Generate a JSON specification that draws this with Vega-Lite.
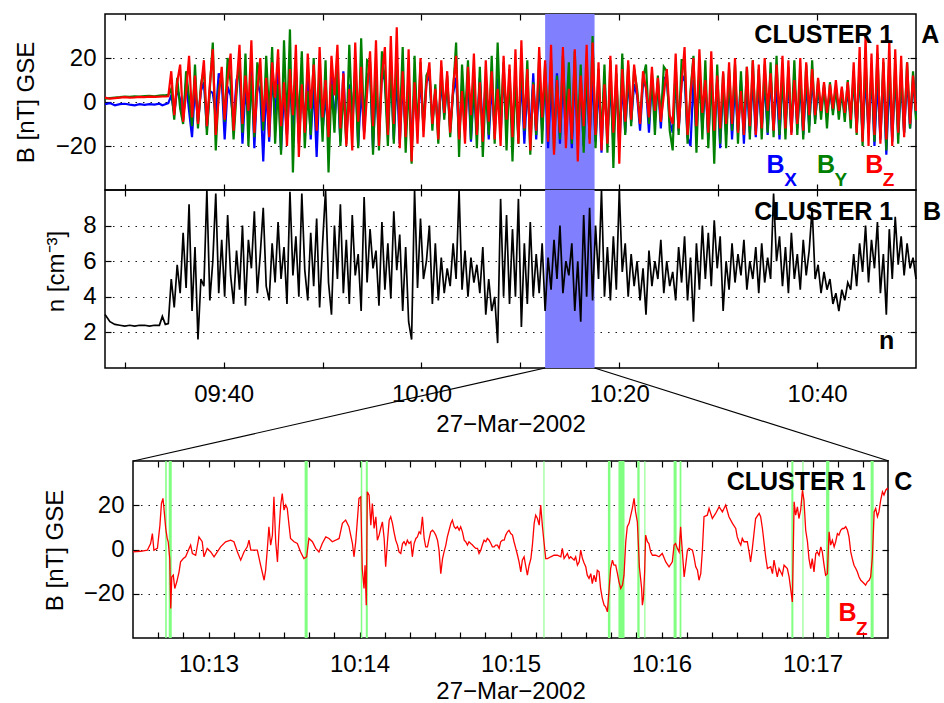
{
"$schema":"https://vega.github.io/schema/vega-lite/v6.json",
"padding":{"left":13,"top":12,"right":2,"bottom":0},
"background":"white",
"spacing":0,
"center":true,
"bounds":"flush",
"datasets":{
"ab":[
{"m":28,"x":-1,"y":1.5,"z":2,"n":3},{"m":28.5,"x":-0.5,"y":1.8,"z":1.5,"n":2.6},{"m":29,"x":-1.5,"y":2,"z":1.8,"n":2.45},{"m":29.5,"x":-1,"y":2.2,"z":2,"n":2.4},{"m":30,"x":-0.8,"y":2.5,"z":2.2,"n":2.35},{"m":30.5,"x":-1.2,"y":2.3,"z":2,"n":2.4},{"m":31,"x":-1.5,"y":2.6,"z":2.1,"n":2.35},{"m":31.5,"x":-1,"y":2.5,"z":2.3,"n":2.4},{"m":32,"x":-1.3,"y":2.7,"z":2.2,"n":2.4},{"m":32.5,"x":-1,"y":2.8,"z":2.4,"n":2.35},{"m":33,"x":-1.2,"y":2.6,"z":2.3,"n":2.4},{"m":33.5,"x":-0.8,"y":2.9,"z":2.4,"n":2.4},{"m":33.8,"x":-1.5,"y":3,"z":2.5,"n":2.9},{"m":34.1,"x":-1,"y":3,"z":2.5,"n":2.45},{"m":34.4,"x":-0.5,"y":3.2,"z":2.6,"n":2.5},
{"m":34.7,"x":3,"y":6,"z":14,"n":5},{"m":35,"x":-5,"y":-8,"z":-6,"n":3.4},{"m":35.3,"x":6,"y":11,"z":9,"n":5.8},{"m":35.6,"x":1,"y":-3,"z":17,"n":4.2},{"m":35.9,"x":-8,"y":-10,"z":-9,"n":7.6},{"m":36.2,"x":9,"y":14,"z":4,"n":4.5},{"m":36.5,"x":-4,"y":2,"z":21,"n":9.2},{"m":36.8,"x":-16,"y":-11,"z":-7,"n":3.2},{"m":37.1,"x":7,"y":17,"z":12,"n":6.8},{"m":37.4,"x":-9,"y":-12,"z":-10,"n":1.6},{"m":37.7,"x":5,"y":8,"z":6,"n":5},
{"m":38,"x":9,"y":15,"z":19,"n":4.6},{"m":38.3,"x":-12,"y":-15,"z":-11,"n":10},{"m":38.6,"x":5,"y":6,"z":8,"n":3.8},{"m":38.9,"x":4,"y":27,"z":24,"n":6},{"m":39.2,"x":-6,"y":-22,"z":-15,"n":9.8},{"m":39.5,"x":13,"y":6,"z":2,"n":4.2},{"m":39.8,"x":10,"y":13,"z":16,"n":7.2},{"m":40.1,"x":-17,"y":-9,"z":-8,"n":4},{"m":40.4,"x":7,"y":20,"z":10,"n":8.6},{"m":40.7,"x":3,"y":9,"z":22,"n":5.2},{"m":41,"x":-9,"y":-17,"z":-13,"n":3.6},
{"m":41.3,"x":10,"y":4,"z":7,"n":6.6},{"m":41.6,"x":15,"y":20,"z":26,"n":4.4},{"m":41.9,"x":-19,"y":-14,"z":-10,"n":8},{"m":42.2,"x":6,"y":22,"z":12,"n":3.5},{"m":42.5,"x":-8,"y":-20,"z":-4,"n":7.2},{"m":42.8,"x":15,"y":12,"z":28,"n":5.6},{"m":43.1,"x":-21,"y":-16,"z":-14,"n":8.8},{"m":43.4,"x":9,"y":18,"z":5,"n":4.2},{"m":43.7,"x":4,"y":10,"z":20,"n":6.4},{"m":44,"x":-27,"y":-13,"z":-9,"n":9},{"m":44.3,"x":7,"y":21,"z":11,"n":4.6},
{"m":44.6,"x":-18,"y":-7,"z":-16,"n":3.8},{"m":44.9,"x":12,"y":25,"z":18,"n":7},{"m":45.2,"x":-6,"y":-19,"z":2,"n":4.8},{"m":45.5,"x":14,"y":8,"z":24,"n":8.2},{"m":45.8,"x":-22,"y":-24,"z":-11,"n":5},{"m":46.1,"x":5,"y":28,"z":9,"n":6.8},{"m":46.4,"x":-15,"y":-12,"z":-20,"n":3.6},{"m":46.7,"x":9,"y":33,"z":15,"n":9.9},{"m":47,"x":-12,"y":-32,"z":-6,"n":5.2},{"m":47.3,"x":16,"y":14,"z":26,"n":7.4},{"m":47.6,"x":-19,"y":-9,"z":-25,"n":4},{"m":47.9,"x":7,"y":23,"z":8,"n":9.8},{"m":48.2,"x":-10,"y":-21,"z":-14,"n":5.5},{"m":48.5,"x":14,"y":5,"z":22,"n":3.8},{"m":48.8,"x":-17,"y":-15,"z":-3,"n":7.6},
{"m":49.1,"x":8,"y":20,"z":17,"n":4.6},{"m":49.4,"x":-25,"y":-11,"z":-13,"n":8.4},{"m":49.7,"x":11,"y":12,"z":25,"n":3.4},{"m":50,"x":-13,"y":-18,"z":-7,"n":7},{"m":50.3,"x":3,"y":19,"z":10,"n":10},{"m":50.6,"x":-16,"y":-32,"z":-16,"n":4.8},{"m":50.9,"x":13,"y":8,"z":21,"n":3},{"m":51.2,"x":-9,"y":-14,"z":3,"n":8},{"m":51.5,"x":10,"y":17,"z":26,"n":5},{"m":51.8,"x":-18,"y":-20,"z":-12,"n":9.2},
{"m":52.1,"x":14,"y":6,"z":13,"n":4.2},{"m":52.4,"x":-17,"y":-19,"z":-20,"n":7.2},{"m":52.7,"x":8,"y":26,"z":6,"n":3.6},{"m":53,"x":-12,"y":-8,"z":-22,"n":8.6},{"m":53.3,"x":16,"y":13,"z":27,"n":5.2},{"m":53.6,"x":-20,"y":-21,"z":-9,"n":6.4},{"m":53.9,"x":6,"y":29,"z":16,"n":3.2},{"m":54.2,"x":-14,"y":-13,"z":-17,"n":9.6},{"m":54.5,"x":12,"y":19,"z":4,"n":4.8},{"m":54.8,"x":14,"y":18,"z":23,"n":7.8},{"m":55.1,"x":-21,"y":-24,"z":-11,"n":5.6},{"m":55.4,"x":8,"y":15,"z":28,"n":6.6},{"m":55.7,"x":-15,"y":-22,"z":-20,"n":3.5},{"m":56,"x":13,"y":23,"z":12,"n":8.2},{"m":56.3,"x":10,"y":9,"z":25,"n":4.4},{"m":56.6,"x":-13,"y":-20,"z":-15,"n":7},{"m":56.9,"x":15,"y":16,"z":30,"n":3.9},
{"m":57.2,"x":-17,"y":-19,"z":-10,"n":8.8},{"m":57.5,"x":12,"y":20,"z":34,"n":5.5},{"m":57.8,"x":-19,"y":-12,"z":-21,"n":7.5},{"m":58.1,"x":9,"y":25,"z":14,"n":3.2},{"m":58.4,"x":-14,"y":-23,"z":-16,"n":6.8},{"m":58.7,"x":13,"y":10,"z":24,"n":2.6},{"m":59,"x":-21,"y":-28,"z":-27,"n":1.6},{"m":59.3,"x":8,"y":21,"z":9,"n":10},{"m":59.6,"x":-12,"y":-14,"z":-19,"n":4.5},{"m":59.9,"x":11,"y":18,"z":20,"n":8.4},
{"m":60.2,"x":-11,"y":-13,"z":-16,"n":5},{"m":60.5,"x":9,"y":12,"z":8,"n":6},{"m":60.8,"x":12,"y":15,"z":18,"n":8},{"m":61.1,"x":-9,"y":-13,"z":-10,"n":3.6},{"m":61.4,"x":5,"y":8,"z":6,"n":7},{"m":61.7,"x":-14,"y":-19,"z":-17,"n":3.8},{"m":62,"x":10,"y":16,"z":19,"n":6.2},{"m":62.3,"x":-6,"y":-8,"z":-5,"n":4.2},{"m":62.6,"x":9,"y":12,"z":14,"n":5.6},{"m":62.9,"x":-12,"y":-16,"z":-14,"n":4.6},{"m":63.2,"x":4,"y":5,"z":7,"n":7},
{"m":63.5,"x":11,"y":27,"z":21,"n":5},{"m":63.8,"x":-16,"y":-25,"z":-17,"n":10},{"m":64.1,"x":8,"y":17,"z":5,"n":4.4},{"m":64.4,"x":-13,"y":-8,"z":-19,"n":6.6},{"m":64.7,"x":12,"y":19,"z":16,"n":4},{"m":65,"x":-18,"y":-17,"z":-6,"n":6.2},{"m":65.3,"x":6,"y":11,"z":22,"n":4.8},{"m":65.6,"x":-14,"y":-21,"z":-15,"n":5.8},{"m":65.9,"x":11,"y":16,"z":9,"n":4.2},{"m":66.2,"x":-12,"y":-25,"z":-18,"n":6.8},{"m":66.5,"x":10,"y":7,"z":19,"n":3},{"m":66.8,"x":-17,"y":-15,"z":-9,"n":5},{"m":67.1,"x":8,"y":21,"z":14,"n":3.2},{"m":67.4,"x":-13,"y":-19,"z":-17,"n":4},{"m":67.7,"x":11,"y":27,"z":6,"n":1.4},{"m":68,"x":-15,"y":-10,"z":-20,"n":9.5},{"m":68.3,"x":13,"y":18,"z":21,"n":4},{"m":68.6,"x":-11,"y":-22,"z":-8,"n":8.6},{"m":68.9,"x":10,"y":15,"z":17,"n":3.6},{"m":69.2,"x":-14,"y":-27,"z":-16,"n":7.8},{"m":69.5,"x":12,"y":11,"z":24,"n":4},
{"m":69.8,"x":-16,"y":-19,"z":-19,"n":9.5},{"m":70.1,"x":11,"y":21,"z":28,"n":2.3},{"m":70.4,"x":-19,"y":-13,"z":-12,"n":7},{"m":70.7,"x":7,"y":19,"z":15,"n":3.6},{"m":71,"x":-15,"y":-24,"z":-22,"n":8.2},{"m":71.3,"x":13,"y":9,"z":8,"n":4},{"m":71.6,"x":-17,"y":-15,"z":-13,"n":6.4},{"m":71.9,"x":10,"y":21,"z":25,"n":4.2},{"m":72.2,"x":-13,"y":-19,"z":-7,"n":7},
{"m":72.5,"x":12,"y":17,"z":19,"n":3.2},{"m":72.8,"x":-21,"y":-11,"z":-18,"n":6.2},{"m":73.1,"x":8,"y":19,"z":26,"n":4.4},{"m":73.4,"x":-17,"y":-22,"z":-24,"n":7.2},{"m":73.7,"x":13,"y":12,"z":10,"n":5},{"m":74,"x":-19,"y":-17,"z":-14,"n":8},{"m":74.3,"x":11,"y":21,"z":25,"n":4.2},{"m":74.6,"x":-15,"y":-9,"z":-21,"n":6},{"m":74.9,"x":10,"y":18,"z":6,"n":5.2},{"m":75.2,"x":-21,"y":-19,"z":-17,"n":7},{"m":75.5,"x":13,"y":23,"z":24,"n":3.2},{"m":75.8,"x":-17,"y":-15,"z":-27,"n":6},{"m":76.1,"x":9,"y":17,"z":12,"n":2.6},{"m":76.4,"x":-20,"y":-23,"z":-11,"n":8.6},{"m":76.7,"x":12,"y":19,"z":26,"n":4},{"m":77,"x":-16,"y":-17,"z":-19,"n":9},{"m":77.3,"x":11,"y":30,"z":27,"n":3.8},
{"m":77.6,"x":-18,"y":-21,"z":-15,"n":8},{"m":77.9,"x":9,"y":15,"z":18,"n":5},{"m":78.2,"x":-23,"y":-17,"z":-22,"n":10},{"m":78.5,"x":11,"y":17,"z":8,"n":4},{"m":78.8,"x":-15,"y":-23,"z":-19,"n":6.8},{"m":79.1,"x":8,"y":19,"z":21,"n":3.8},{"m":79.4,"x":-19,"y":-30,"z":-14,"n":7.4},{"m":79.7,"x":10,"y":13,"z":17,"n":4.4},{"m":80,"x":-21,"y":-19,"z":-28,"n":10},{"m":80.3,"x":9,"y":22,"z":15,"n":5.4},{"m":80.6,"x":-14,"y":-15,"z":-9,"n":7},{"m":80.9,"x":11,"y":17,"z":19,"n":4},
{"m":81.2,"x":-9,"y":-11,"z":-8,"n":6.4},{"m":81.5,"x":8,"y":15,"z":17,"n":4.6},{"m":81.8,"x":3,"y":6,"z":4,"n":6},{"m":82.1,"x":-13,"y":-9,"z":-10,"n":3.8},{"m":82.4,"x":9,"y":11,"z":14,"n":5.6},{"m":82.7,"x":7,"y":17,"z":6,"n":3},{"m":83,"x":-14,"y":-10,"z":-7,"n":6.6},{"m":83.3,"x":10,"y":13,"z":16,"n":4.6},{"m":83.6,"x":-8,"y":-15,"z":-4,"n":6},{"m":83.9,"x":9,"y":12,"z":11,"n":5},{"m":84.2,"x":-12,"y":-9,"z":-9,"n":7.2},{"m":84.5,"x":11,"y":16,"z":3,"n":4.2},{"m":84.8,"x":11,"y":14,"z":15,"n":6},{"m":85.1,"x":-9,"y":-13,"z":-6,"n":4.6},{"m":85.4,"x":-14,"y":-22,"z":-10,"n":5.4},
{"m":85.7,"x":11,"y":17,"z":22,"n":3.8},{"m":86,"x":-13,"y":-15,"z":-12,"n":6.8},{"m":86.3,"x":9,"y":19,"z":8,"n":4.8},{"m":86.6,"x":12,"y":19,"z":25,"n":7.4},{"m":86.9,"x":-16,"y":-19,"z":-15,"n":3.8},{"m":87.2,"x":-20,"y":5,"z":3,"n":6.2},{"m":87.5,"x":10,"y":21,"z":20,"n":2.6},{"m":87.8,"x":-15,"y":-23,"z":-11,"n":7},{"m":88.1,"x":13,"y":16,"z":24,"n":4.4},{"m":88.4,"x":-12,"y":-17,"z":-5,"n":8},{"m":88.7,"x":9,"y":19,"z":10,"n":5},{"m":89,"x":-17,"y":-21,"z":-14,"n":7.6},{"m":89.3,"x":11,"y":14,"z":23,"n":4.6},{"m":89.6,"x":-13,"y":-28,"z":-13,"n":8.3},{"m":89.9,"x":10,"y":17,"z":12,"n":5.6},
{"m":90.2,"x":-21,"y":-19,"z":-12,"n":7.4},{"m":90.5,"x":9,"y":13,"z":14,"n":3.2},{"m":90.8,"x":-15,"y":-21,"z":-10,"n":6},{"m":91.1,"x":11,"y":15,"z":18,"n":4.4},{"m":91.4,"x":-17,"y":-13,"z":-10,"n":7},{"m":91.7,"x":8,"y":17,"z":20,"n":4.8},{"m":92,"x":-13,"y":-19,"z":-14,"n":6.4},{"m":92.3,"x":10,"y":14,"z":5,"n":5.2},{"m":92.6,"x":-19,"y":-15,"z":-15,"n":7.2},{"m":92.9,"x":9,"y":16,"z":16,"n":4.4},{"m":93.2,"x":-14,"y":-17,"z":-11,"n":6},{"m":93.5,"x":11,"y":19,"z":19,"n":5},{"m":93.8,"x":-16,"y":-13,"z":-15,"n":6.8},{"m":94.1,"x":8,"y":15,"z":17,"n":4.2},{"m":94.4,"x":-12,"y":-17,"z":-12,"n":7},{"m":94.7,"x":10,"y":17,"z":20,"n":4.8},{"m":95,"x":-15,"y":-14,"z":-4,"n":6.2},{"m":95.3,"x":12,"y":18,"z":13,"n":5},{"m":95.6,"x":-13,"y":-16,"z":-13,"n":9.8},{"m":95.9,"x":9,"y":21,"z":17,"n":6},{"m":96.2,"x":-17,"y":-15,"z":-8,"n":7.4},{"m":96.5,"x":11,"y":14,"z":21,"n":4.6},{"m":96.8,"x":-11,"y":-17,"z":-12,"n":6.8},{"m":97.1,"x":9,"y":16,"z":19,"n":4.2},{"m":97.4,"x":-14,"y":-13,"z":-15,"n":7.6},{"m":97.7,"x":10,"y":19,"z":10,"n":5},{"m":98,"x":-12,"y":-15,"z":-10,"n":6.4},{"m":98.3,"x":8,"y":13,"z":20,"n":4.4},{"m":98.6,"x":-15,"y":-17,"z":-13,"n":7.2},{"m":98.9,"x":9,"y":17,"z":18,"n":5.2},{"m":99.2,"x":-11,"y":-14,"z":-6,"n":6.6},{"m":99.5,"x":11,"y":19,"z":15,"n":9},
{"m":99.8,"x":-8,"y":-10,"z":-6,"n":5},{"m":100.1,"x":6,"y":10,"z":11,"n":5.8},{"m":100.4,"x":-5,"y":-8,"z":-4,"n":4.2},{"m":100.7,"x":7,"y":8,"z":9,"n":5.4},{"m":101,"x":-6,"y":-12,"z":-5,"n":4.4},{"m":101.3,"x":5,"y":9,"z":8,"n":5},{"m":101.6,"x":-4,"y":-6,"z":-3,"n":3.6},{"m":101.9,"x":6,"y":7,"z":10,"n":4.2},{"m":102.2,"x":-5,"y":-8,"z":-4,"n":3.2},{"m":102.5,"x":4,"y":6,"z":7,"n":4.4},{"m":102.8,"x":-6,"y":-9,"z":-5,"n":3.8},{"m":103.1,"x":5,"y":10,"z":9,"n":4.8},{"m":103.4,"x":-7,"y":-12,"z":-8,"n":4.4},
{"m":103.7,"x":10,"y":14,"z":18,"n":6.4},{"m":104,"x":-12,"y":-15,"z":-14,"n":4.6},{"m":104.3,"x":14,"y":18,"z":25,"n":7},{"m":104.6,"x":-16,"y":-20,"z":-18,"n":5.4},{"m":104.9,"x":12,"y":20,"z":30,"n":8},{"m":105.2,"x":-14,"y":-14,"z":-20,"n":4.8},{"m":105.5,"x":13,"y":16,"z":22,"n":7.2},{"m":105.8,"x":-20,"y":-18,"z":-15,"n":5.6},{"m":106.1,"x":10,"y":22,"z":26,"n":8.2},{"m":106.4,"x":-17,"y":-16,"z":-19,"n":4.2},{"m":106.7,"x":14,"y":18,"z":20,"n":6.4},{"m":107,"x":-24,"y":-22,"z":-17,"n":3},{"m":107.3,"x":11,"y":20,"z":28,"n":7.8},{"m":107.6,"x":-18,"y":-16,"z":-20,"n":5},{"m":107.9,"x":13,"y":17,"z":24,"n":8.5},{"m":108.2,"x":-15,"y":-19,"z":-14,"n":5.8},{"m":108.5,"x":10,"y":15,"z":21,"n":7.4},{"m":108.8,"x":-14,"y":-14,"z":-16,"n":5.2},{"m":109.1,"x":12,"y":18,"z":18,"n":7},{"m":109.4,"x":-12,"y":-12,"z":-10,"n":5.6},{"m":109.7,"x":10,"y":14,"z":12,"n":6.2},{"m":110,"x":-6,"y":-8,"z":-4,"n":5}
],
"c":[
{"s":30,"v":-1.1},{"s":33,"v":-0.8},{"s":35.7,"v":-0.3},{"s":37,"v":2.7},{"s":37.7,"v":7.2},{"s":38.3,"v":-0.3},{"s":39.7,"v":0.5},{"s":40.7,"v":11},{"s":41.3,"v":20.8},{"s":41.9,"v":23.1},{"s":42.3,"v":18.6},{"s":43,"v":9.5},{"s":43.6,"v":5},{"s":44,"v":3.5},{"s":44.6,"v":-4.1},{"s":45,"v":-26.7},{"s":45.4,"v":-12.4},{"s":46,"v":-11.6},{"s":46.6,"v":-17.6},{"s":47.4,"v":-14.6},{"s":48.3,"v":-10.1},{"s":48.9,"v":-5.6},{"s":50,"v":-4.1},{"s":50.9,"v":-3.3},{"s":52.3,"v":0.5},{"s":52.9,"v":2},{"s":53.6,"v":-1.8},{"s":54.9,"v":-2.6},{"s":56.2,"v":5.7},{"s":57.5,"v":3.5},{"s":58.2,"v":-3.3},{"s":59.5,"v":0.5},{"s":60.9,"v":-1.1},{"s":62.2,"v":-3.3},{"s":63.5,"v":-1.1},{"s":64.8,"v":1.2},{"s":66.8,"v":3.5},{"s":68.8,"v":4.2},{"s":70.1,"v":3.5},{"s":71.5,"v":-1.1},{"s":72.8,"v":-4.8},{"s":74.1,"v":-1.1},{"s":75.4,"v":1.2},{"s":76.1,"v":4.2},{"s":76.8,"v":-0.3},{"s":78.1,"v":-0.3},{"s":79.4,"v":-0.3},{"s":80.7,"v":-7.1},{"s":82.1,"v":-13.9},{"s":82.7,"v":-9.4},{"s":83.4,"v":0.5},{"s":84,"v":10.3},{"s":84.7,"v":2},{"s":85.4,"v":6.5},{"s":86,"v":23.8},{"s":86.7,"v":3.5},{"s":87.4,"v":-5.6},{"s":88,"v":8},{"s":88.7,"v":20.1},{"s":89.3,"v":25.3},{"s":90,"v":17.8},{"s":90.7,"v":20.1},{"s":91.3,"v":18.6},{"s":92,"v":11},{"s":92.6,"v":5},{"s":94,"v":3.5},{"s":95.3,"v":2.7},{"s":96.6,"v":-1.1},{"s":97.9,"v":-4.1},{"s":99,"v":-3.3},{"s":99.9,"v":5},{"s":101.3,"v":3.5},{"s":102.6,"v":0.5},{"s":103.9,"v":-1.1},{"s":105.2,"v":2.7},{"s":106.6,"v":5.7},{"s":107.9,"v":5},{"s":109.2,"v":3.5},{"s":110.5,"v":4.2},{"s":111.9,"v":5},{"s":113.2,"v":11.8},{"s":114.5,"v":13.3},{"s":115.8,"v":10.3},{"s":117.2,"v":2.7},{"s":117.8,"v":-3.3},{"s":118.5,"v":3.5},{"s":119.1,"v":12.5},{"s":119.8,"v":23.1},{"s":120.5,"v":23.8},{"s":121.1,"v":-8.6},{"s":121.8,"v":-17.6},{"s":122.2,"v":-7.1},{"s":122.7,"v":-25.2},{"s":123.1,"v":26.1},{"s":123.8,"v":24.6},{"s":124.5,"v":11},{"s":125.1,"v":20.8},{"s":125.8,"v":9.5},{"s":126.5,"v":14.8},{"s":127.1,"v":4.2},{"s":127.8,"v":6.5},{"s":128.4,"v":9.5},{"s":129.1,"v":12.5},{"s":129.8,"v":5},{"s":130.4,"v":-7.8},{"s":131.1,"v":3.5},{"s":131.8,"v":13.3},{"s":132.4,"v":14.8},{"s":133.1,"v":11.8},{"s":133.7,"v":8},{"s":134.4,"v":4.2},{"s":135.1,"v":2},{"s":135.7,"v":-1.1},{"s":136.4,"v":-1.8},{"s":137.1,"v":2.7},{"s":137.7,"v":3.5},{"s":138.4,"v":2},{"s":139,"v":4.2},{"s":139.7,"v":2.7},{"s":140.4,"v":3.5},{"s":141,"v":-3.3},{"s":141.7,"v":2.7},{"s":142.4,"v":5},{"s":143,"v":5.7},{"s":143.7,"v":8},{"s":144.3,"v":7.2},{"s":145,"v":14.8},{"s":145.7,"v":5},{"s":146.3,"v":1.2},{"s":147,"v":1.2},{"s":147.7,"v":5},{"s":148.3,"v":8},{"s":149,"v":8.7},{"s":149.6,"v":8},{"s":150.3,"v":6.5},{"s":151,"v":4.2},{"s":151.6,"v":-0.3},{"s":152.3,"v":-10.9},{"s":153,"v":-4.1},{"s":153.6,"v":-1.1},{"s":154.3,"v":2},{"s":154.9,"v":5.7},{"s":155.6,"v":8.7},{"s":156.3,"v":11.8},{"s":156.9,"v":13.3},{"s":157.6,"v":10.3},{"s":158.2,"v":9.5},{"s":158.9,"v":10.3},{"s":159.6,"v":8.7},{"s":160.2,"v":10.3},{"s":160.9,"v":8},{"s":161.6,"v":4.2},{"s":162.2,"v":3.5},{"s":162.9,"v":2},{"s":163.5,"v":3.5},{"s":164.2,"v":2.7},{"s":164.9,"v":2},{"s":165.5,"v":1.2},{"s":166.2,"v":0.5},{"s":166.9,"v":0.5},{"s":167.5,"v":-1.8},{"s":168.2,"v":-0.3},{"s":168.8,"v":2},{"s":169.5,"v":4.2},{"s":170.2,"v":3.5},{"s":170.8,"v":5},{"s":171.5,"v":4.2},{"s":172.2,"v":2.7},{"s":172.8,"v":1.2},{"s":173.5,"v":1.2},{"s":174.1,"v":2},{"s":174.8,"v":2},{"s":175.5,"v":0.5},{"s":176.1,"v":3.5},{"s":176.8,"v":4.2},{"s":177.5,"v":4.2},{"s":178.1,"v":6.5},{"s":178.8,"v":8},{"s":179.4,"v":8.7},{"s":180.1,"v":7.2},{"s":180.8,"v":6.5},{"s":181.4,"v":3.5},{"s":182.1,"v":0.5},{"s":182.8,"v":-2.6},{"s":183.4,"v":-5.6},{"s":184.1,"v":-10.1},{"s":184.7,"v":-4.8},{"s":185.4,"v":-3.3},{"s":186.1,"v":-7.8},{"s":186.7,"v":-11.6},{"s":187.4,"v":-7.1},{"s":188.1,"v":-4.1},{"s":188.7,"v":2},{"s":189.4,"v":11.8},{"s":190,"v":15.5},{"s":190.7,"v":14},{"s":191.4,"v":11},{"s":192,"v":20.1},{"s":192.7,"v":10.3},{"s":193.3,"v":3.5},{"s":194,"v":-4.1},{"s":194.7,"v":-4.1},{"s":196,"v":-3.3},{"s":197.3,"v":-2.6},{"s":198.6,"v":-2.6},{"s":200,"v":-3.3},{"s":200.6,"v":0.5},{"s":201.3,"v":-4.1},{"s":202.6,"v":-1.8},{"s":203.3,"v":-4.1},{"s":203.9,"v":-3.3},{"s":205.3,"v":-4.8},{"s":205.9,"v":-3.3},{"s":206.6,"v":-7.1},{"s":207.3,"v":-5.6},{"s":207.9,"v":-0.3},{"s":208.6,"v":-4.1},{"s":209.2,"v":-6},{"s":209.9,"v":-7.8},{"s":210.5,"v":-11.6},{"s":211.2,"v":-13.1},{"s":211.9,"v":-10.9},{"s":212.5,"v":-15.4},{"s":213.2,"v":-11.6},{"s":213.9,"v":-14.6},{"s":214.5,"v":-9.4},{"s":215.2,"v":-10.1},{"s":215.8,"v":-17.6},{"s":216.5,"v":-22.2},{"s":217.2,"v":-25.2},{"s":217.8,"v":-25.9},{"s":218.5,"v":-28.2},{"s":219.2,"v":-17.6},{"s":219.8,"v":-8.6},{"s":220.5,"v":-4.8},{"s":221.1,"v":-7.1},{"s":221.8,"v":-7.1},{"s":222.5,"v":-10.9},{"s":223.1,"v":-14.6},{"s":223.8,"v":-17.6},{"s":224.5,"v":-16.1},{"s":225.1,"v":-11.6},{"s":225.8,"v":3.5},{"s":226.4,"v":10.3},{"s":227.1,"v":11.8},{"s":227.8,"v":15.5},{"s":228.4,"v":18.6},{"s":229.1,"v":23.1},{"s":229.7,"v":17},{"s":230.4,"v":12.5},{"s":230.8,"v":2.7},{"s":231.2,"v":-7.8},{"s":231.7,"v":-13.1},{"s":232.1,"v":-17.6},{"s":232.4,"v":-25.2},{"s":232.8,"v":-22.2},{"s":233.3,"v":-10.1},{"s":233.7,"v":6.5},{"s":234.4,"v":3.5},{"s":235,"v":2.7},{"s":235.7,"v":-1.1},{"s":236.4,"v":-2.6},{"s":237.7,"v":-2.6},{"s":239,"v":-3.3},{"s":240.3,"v":-1.8},{"s":241.7,"v":-5.6},{"s":243,"v":-7.8},{"s":244.3,"v":-5.6},{"s":245,"v":2},{"s":245.6,"v":2.7},{"s":246.3,"v":0.5},{"s":247,"v":-1.1},{"s":247.6,"v":10.3},{"s":248.3,"v":-1.1},{"s":249,"v":-12.4},{"s":249.6,"v":-7.1},{"s":250.3,"v":-0.3},{"s":250.9,"v":0.5},{"s":252.3,"v":-0.3},{"s":252.9,"v":-3.3},{"s":253.6,"v":-7.8},{"s":254.3,"v":-9.4},{"s":254.9,"v":-13.9},{"s":255.6,"v":-10.9},{"s":256.2,"v":-1.1},{"s":256.9,"v":14.8},{"s":258.2,"v":15.5},{"s":258.9,"v":18.6},{"s":260.2,"v":14},{"s":261.5,"v":16.3},{"s":262.9,"v":19.3},{"s":264.2,"v":17},{"s":265.5,"v":20.1},{"s":266.8,"v":14.8},{"s":268.2,"v":11.8},{"s":269.5,"v":9.5},{"s":270.1,"v":5.7},{"s":270.8,"v":3.5},{"s":271.5,"v":2},{"s":272.1,"v":5},{"s":272.8,"v":3.5},{"s":274.1,"v":3.5},{"s":274.8,"v":-1.1},{"s":275.4,"v":-5.6},{"s":276.1,"v":0.5},{"s":277.4,"v":14},{"s":278.8,"v":16.3},{"s":279.4,"v":14.8},{"s":280.1,"v":9.5},{"s":281.4,"v":-3.3},{"s":282.1,"v":-8.6},{"s":283.4,"v":-7.8},{"s":284.1,"v":-10.9},{"s":284.7,"v":-4.8},{"s":286,"v":-12.4},{"s":286.7,"v":-8.6},{"s":288,"v":-11.6},{"s":288.7,"v":-7.1},{"s":290,"v":-8.6},{"s":290.7,"v":-12.4},{"s":291.3,"v":-17.6},{"s":292,"v":-23.7},{"s":292.7,"v":21.6},{"s":293.3,"v":15.5},{"s":294,"v":19.3},{"s":294.6,"v":14},{"s":295.3,"v":17.8},{"s":296,"v":26.8},{"s":296.6,"v":22.3},{"s":297.3,"v":8.7},{"s":298,"v":3.5},{"s":298.6,"v":-4.1},{"s":299.3,"v":-8.6},{"s":299.9,"v":-4.1},{"s":300.6,"v":-10.1},{"s":301.3,"v":-1.8},{"s":301.9,"v":-1.1},{"s":302.6,"v":-2.6},{"s":303.3,"v":1.2},{"s":303.9,"v":-1.1},{"s":304.6,"v":-7.1},{"s":305.2,"v":-11.6},{"s":305.9,"v":-10.9},{"s":306.6,"v":8},{"s":307.2,"v":2},{"s":307.9,"v":4.2},{"s":308.6,"v":1.2},{"s":309.2,"v":3.5},{"s":309.9,"v":7.2},{"s":310.5,"v":6.5},{"s":311.2,"v":8.7},{"s":311.9,"v":9.5},{"s":312.5,"v":9.5},{"s":313.2,"v":10.3},{"s":313.9,"v":8.7},{"s":314.5,"v":5.7},{"s":315.2,"v":-1.1},{"s":315.8,"v":-4.1},{"s":316.5,"v":-7.1},{"s":317.2,"v":-8.6},{"s":317.8,"v":-10.1},{"s":318.5,"v":-12.4},{"s":319.2,"v":-13.9},{"s":319.8,"v":-14.6},{"s":320.5,"v":-15.4},{"s":321.1,"v":-16.1},{"s":321.8,"v":-14.6},{"s":322.5,"v":-13.9},{"s":323.1,"v":-12.4},{"s":323.8,"v":-3.3},{"s":324.5,"v":17},{"s":325.1,"v":18.6},{"s":325.8,"v":14.8},{"s":326.4,"v":17},{"s":327.1,"v":22.3},{"s":327.8,"v":26.1},{"s":328.4,"v":24.6},{"s":329.1,"v":26.8},{"s":329.7,"v":27.6},{"s":330,"v":27}
],
"g":[
{"s0":42.8,"s1":43.4},{"s0":44.2,"s1":45.4},{"s0":98.2,"s1":99.4},{"s0":120.5,"s1":121.1},{"s0":122.5,"s1":123.3},{"s0":193.1,"s1":193.5},{"s0":218.7,"s1":219.7},{"s0":222.9,"s1":225.3},{"s0":230.4,"s1":231.3},{"s0":233.2,"s1":233.6},{"s0":244.8,"s1":246},{"s0":247.2,"s1":247.9},{"s0":291.6,"s1":292.4},{"s0":296,"s1":296.4},{"s0":305.4,"s1":306.7},{"s0":323.1,"s1":324.3}
]
},
"vconcat":[
{
"width":811,"height":176,
"resolve":{"axis":{"x":"independent","y":"independent"}},
"layer":[
{"data":{"values":[{"a":72.5,"b":77.5}]},"mark":{"type":"rect","color":"#8080ff"},
 "encoding":{"x":{"field":"a","type":"quantitative","scale":{"domain":[28,110],"nice":false},"axis":null},"x2":{"field":"b"}}},
{"data":{"name":"ab"},"mark":{"type":"line","color":"#0000ff","strokeWidth":2.2},
 "encoding":{"x":{"field":"m","type":"quantitative","scale":{"domain":[28,110],"nice":false},"axis":{"orient":"bottom","values":[30,40,50,60,70,80,90,100],"labels":false,"title":null}},
 "y":{"field":"x","type":"quantitative","scale":{"domain":[-40,40],"nice":false},"axis":{"orient":"left","values":[-20,0,20],"title":"B [nT] GSE","titleX":-79,"titleY":88,"titleAlign":"center","titleBaseline":"middle"}}}},
{"data":{"name":"ab"},"mark":{"type":"line","color":"#008000","strokeWidth":2.2},
 "encoding":{"x":{"field":"m","type":"quantitative","scale":{"domain":[28,110],"nice":false},"axis":null},"y":{"field":"y","type":"quantitative","scale":{"domain":[-40,40],"nice":false},"axis":null}}},
{"data":{"name":"ab"},"mark":{"type":"line","color":"#ff0000","strokeWidth":2.2},
 "encoding":{"x":{"field":"m","type":"quantitative","scale":{"domain":[28,110],"nice":false},"axis":null},"y":{"field":"z","type":"quantitative","scale":{"domain":[-40,40],"nice":false},"axis":null}}},
{"data":{"values":[{"m":107.7,"v":26.8,"t":"CLUSTER 1"},{"m":112.36,"v":26.8,"t":"A"}]},"mark":{"type":"text","align":"right","baseline":"alphabetic","fontSize":25,"fontWeight":"bold","color":"black"},
 "encoding":{"x":{"field":"m","type":"quantitative","scale":{"domain":[28,110],"nice":false},"axis":{"orient":"top","values":[30,40,50,60,70,80,90,100],"labels":false,"grid":false,"title":null}},
 "y":{"field":"v","type":"quantitative","scale":{"domain":[-40,40],"nice":false},"axis":{"orient":"right","values":[-20,0,20],"labels":false,"grid":false,"title":null}},"text":{"field":"t"}}},
{"data":{"values":[{"m":94.89,"v":-32.4,"k":"X"},{"m":99.98,"v":-32.4,"k":"Y"},{"m":104.87,"v":-32.4,"k":"Z"}]},"mark":{"type":"text","align":"left","baseline":"alphabetic","fontSize":25,"fontWeight":"bold","text":"B"},
 "encoding":{"x":{"field":"m","type":"quantitative","scale":{"domain":[28,110],"nice":false},"axis":null},"y":{"field":"v","type":"quantitative","scale":{"domain":[-40,40],"nice":false},"axis":null},
 "color":{"field":"k","type":"nominal","scale":{"domain":["X","Y","Z"],"range":["#0000ff","#008000","#ff0000"]},"legend":null}}},
{"data":{"values":[{"m":94.89,"v":-32.4,"k":"X"},{"m":99.98,"v":-32.4,"k":"Y"},{"m":104.87,"v":-32.4,"k":"Z"}]},"mark":{"type":"text","align":"left","baseline":"alphabetic","fontSize":19,"fontWeight":"bold","dx":17.6,"dy":12.6},
 "encoding":{"x":{"field":"m","type":"quantitative","scale":{"domain":[28,110],"nice":false},"axis":null},"y":{"field":"v","type":"quantitative","scale":{"domain":[-40,40],"nice":false},"axis":null},"text":{"field":"k"},
 "color":{"field":"k","type":"nominal","scale":{"domain":["X","Y","Z"],"range":["#0000ff","#008000","#ff0000"]},"legend":null}}}
]
},
{
"width":811,"height":178,
"resolve":{"axis":{"x":"independent","y":"independent"}},
"layer":[
{"data":{"values":[{"a":72.5,"b":77.5}]},"mark":{"type":"rect","color":"#8080ff"},
 "encoding":{"x":{"field":"a","type":"quantitative","scale":{"domain":[28,110],"nice":false},"axis":null},"x2":{"field":"b"}}},
{"data":{"name":"ab"},"mark":{"type":"line","color":"black","strokeWidth":1.7},
 "encoding":{"x":{"field":"m","type":"quantitative","scale":{"domain":[28,110],"nice":false},"axis":{"orient":"bottom","values":[30,40,50,60,70,80,90,100],"labelExpr":"datum.value % 20 == 0 ? (datum.value < 60 ? '09:' + datum.value : '10:' + (datum.value == 60 ? '00' : datum.value - 60)) : ''","title":"27−Mar−2002","titleBaseline":"alphabetic","titleY":63}},
 "y":{"field":"n","type":"quantitative","scale":{"domain":[0,10],"nice":false},"axis":{"orient":"left","values":[2,4,6,8],"title":"n [cm⁻³]","titleX":-49,"titleY":81,"titleAlign":"center","titleBaseline":"middle"}}}},
{"data":{"values":[{"m":107.7,"v":8.33,"t":"CLUSTER 1"},{"m":112.53,"v":8.33,"t":"B"},{"m":107.8,"v":1.05,"t":"n"}]},"mark":{"type":"text","align":"right","baseline":"alphabetic","fontSize":25,"fontWeight":"bold","color":"black"},
 "encoding":{"x":{"field":"m","type":"quantitative","scale":{"domain":[28,110],"nice":false},"axis":{"orient":"top","values":[30,40,50,60,70,80,90,100],"labels":false,"grid":false,"title":null}},
 "y":{"field":"v","type":"quantitative","scale":{"domain":[0,10],"nice":false},"axis":{"orient":"right","values":[2,4,6,8],"labels":false,"grid":false,"title":null}},"text":{"field":"t"}}}
]
},
{
"width":811,"height":93,
"view":{"stroke":null},
"data":{"values":[{"a":72.5,"b":30.86},{"a":77.5,"b":107.26}]},
"mark":{"type":"rule","color":"black","strokeWidth":1.2},
"encoding":{"x":{"field":"a","type":"quantitative","scale":{"domain":[28,110],"nice":false},"axis":null},"x2":{"field":"b"},
"y":{"datum":1,"type":"quantitative","scale":{"domain":[0,1],"nice":false},"axis":null},"y2":{"datum":0}}
},
{
"width":755,"height":177,
"resolve":{"axis":{"x":"independent","y":"independent"}},
"layer":[
{"data":{"name":"g"},"mark":{"type":"rect","color":"#80ff80"},
 "encoding":{"x":{"field":"s0","type":"quantitative","scale":{"domain":[30,330],"nice":false},"axis":null},"x2":{"field":"s1"}}},
{"data":{"name":"c"},"mark":{"type":"line","color":"#ff0000","strokeWidth":1.3},
 "encoding":{"x":{"field":"s","type":"quantitative","scale":{"domain":[30,330],"nice":false},"axis":{"orient":"bottom","values":[40,50,60,70,80,90,100,110,120,130,140,150,160,170,180,190,200,210,220,230,240,250,260,270,280,290,300,310,320],"labelExpr":"datum.value % 60 == 0 ? '10:' + (12 + datum.value / 60) : ''","title":"27−Mar−2002","titleBaseline":"alphabetic","titleY":60}},
 "y":{"field":"v","type":"quantitative","scale":{"domain":[-40,40],"nice":false},"axis":{"orient":"left","values":[-20,0,20],"title":"B [nT] GSE","titleX":-78,"titleY":89,"titleAlign":"center","titleBaseline":"middle"}}}},
{"data":{"values":[{"s":321.1,"v":26.9,"t":"CLUSTER 1"},{"s":339.7,"v":26.9,"t":"C"}]},"mark":{"type":"text","align":"right","baseline":"alphabetic","fontSize":25,"fontWeight":"bold","color":"black"},
 "encoding":{"x":{"field":"s","type":"quantitative","scale":{"domain":[30,330],"nice":false},"axis":{"orient":"top","values":[40,50,60,70,80,90,100,110,120,130,140,150,160,170,180,190,200,210,220,230,240,250,260,270,280,290,300,310,320],"labels":false,"grid":false,"title":null}},
 "y":{"field":"v","type":"quantitative","scale":{"domain":[-40,40],"nice":false},"axis":{"orient":"right","values":[-20,0,20],"labels":false,"grid":false,"title":null}},"text":{"field":"t"}}},
{"data":{"values":[{"s":310.3,"v":-32.4}]},"mark":{"type":"text","align":"left","baseline":"alphabetic","fontSize":25,"fontWeight":"bold","color":"#ff0000","text":"B"},
 "encoding":{"x":{"field":"s","type":"quantitative","scale":{"domain":[30,330],"nice":false},"axis":null},"y":{"field":"v","type":"quantitative","scale":{"domain":[-40,40],"nice":false},"axis":null}}},
{"data":{"values":[{"s":310.3,"v":-32.4}]},"mark":{"type":"text","align":"left","baseline":"alphabetic","fontSize":19,"fontWeight":"bold","color":"#ff0000","text":"Z","dx":17.6,"dy":13.4},
 "encoding":{"x":{"field":"s","type":"quantitative","scale":{"domain":[30,330],"nice":false},"axis":null},"y":{"field":"v","type":"quantitative","scale":{"domain":[-40,40],"nice":false},"axis":null}}}
]
}
],
"config":{
"font":"Liberation Sans",
"view":{"stroke":"black","strokeWidth":1.5},
"axis":{"domain":false,"tickColor":"black","tickSize":-6,"tickWidth":1.2,"labelFont":"Liberation Sans","labelFontSize":24,"labelColor":"black","labelPadding":15,"titleFont":"Liberation Sans","titleFontSize":24,"titleFontWeight":"normal","titleColor":"black","gridColor":"black","gridDash":[1.5,6],"gridWidth":1,"gridOpacity":0.9,"labelFlush":false,"labelOverlap":false},
"axisX":{"labelPadding":20},
"text":{"font":"Liberation Sans"}
}
}
